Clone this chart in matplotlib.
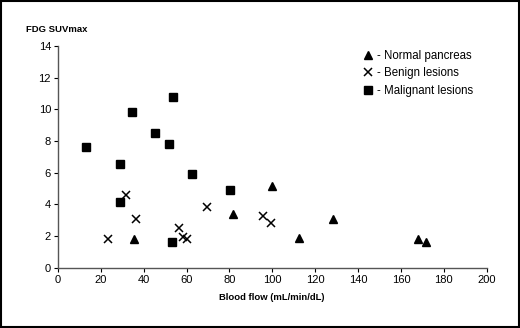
import matplotlib
matplotlib.use("Agg")
import matplotlib.pyplot as plt
from matplotlib.patches import Rectangle

plt.rcParams['font.family'] = ['Liberation Sans', 'DejaVu Sans']

normal_x = [35.6, 81.5, 99.7, 112.6, 128.5, 168.0, 171.7]
normal_y = [1.79, 3.41, 5.18, 1.89, 3.05, 1.79, 1.64]

benign_x = [23.2, 31.7, 36.3, 56.3, 58.2, 60.1, 69.7, 95.8, 99.4]
benign_y = [1.81, 4.61, 3.10, 2.49, 1.96, 1.81, 3.85, 3.28, 2.80]

malig_x = [13.2, 34.7, 53.8, 45.4, 51.8, 28.8, 28.9, 62.4, 80.4, 53.3]
malig_y = [7.64, 9.85, 10.76, 8.49, 7.81, 6.55, 4.13, 5.92, 4.91, 1.60]

labels = ["- Normal pancreas", "- Benign lesions", "- Malignant lesions"]
xticks = [0, 20, 40, 60, 80, 100, 120, 140, 160, 180, 200]
yticks = [0, 2, 4, 6, 8, 10, 12, 14]

fig = plt.figure(figsize=(5.2, 3.28), dpi=100)
ax = fig.add_axes([0.1115, 0.1838, 0.8245, 0.676])

ax.plot(normal_x, normal_y, linestyle='none', marker='^', markersize=6, color='black', label=labels[0])
ax.plot(benign_x, benign_y, linestyle='none', marker='x', markersize=6, markeredgewidth=1.1, color='black', label=labels[1])
ax.plot(malig_x, malig_y, linestyle='none', marker='s', markersize=5.5, color='black', label=labels[2])

ax.set_xlim(0, 200)
ax.set_ylim(0, 14)
ax.set_xticks(xticks)
ax.set_yticks(yticks)
ax.tick_params(direction='out', length=3, width=0.8, labelsize=8, colors='black', pad=2)
for s in ['top', 'right']:
    ax.spines[s].set_visible(False)
for s in ['left', 'bottom']:
    ax.spines[s].set_color('#555555')
    ax.spines[s].set_linewidth(1.0)

fig.text(26/520, 1 - 29/328, "FDG SUVmax", fontsize=6.8, fontweight='bold', ha='left', va='center')
fig.text(272/520, 1 - 297/328, "Blood flow (mL/min/dL)", fontsize=6.8, fontweight='bold', ha='center', va='center')

leg = ax.legend(loc='upper left', bbox_to_anchor=((359 - 58) / 428.7, (267.7 - 45) / 221.7),
                frameon=False, handlelength=0.8, handletextpad=0.4, labelspacing=0.5, fontsize=8.3, borderaxespad=0)

fig.add_artist(Rectangle((0.002, 0.003), 0.996, 0.994, transform=fig.transFigure,
                         fill=False, edgecolor='black', linewidth=1.5))

fig.savefig("out.png", dpi=100)
